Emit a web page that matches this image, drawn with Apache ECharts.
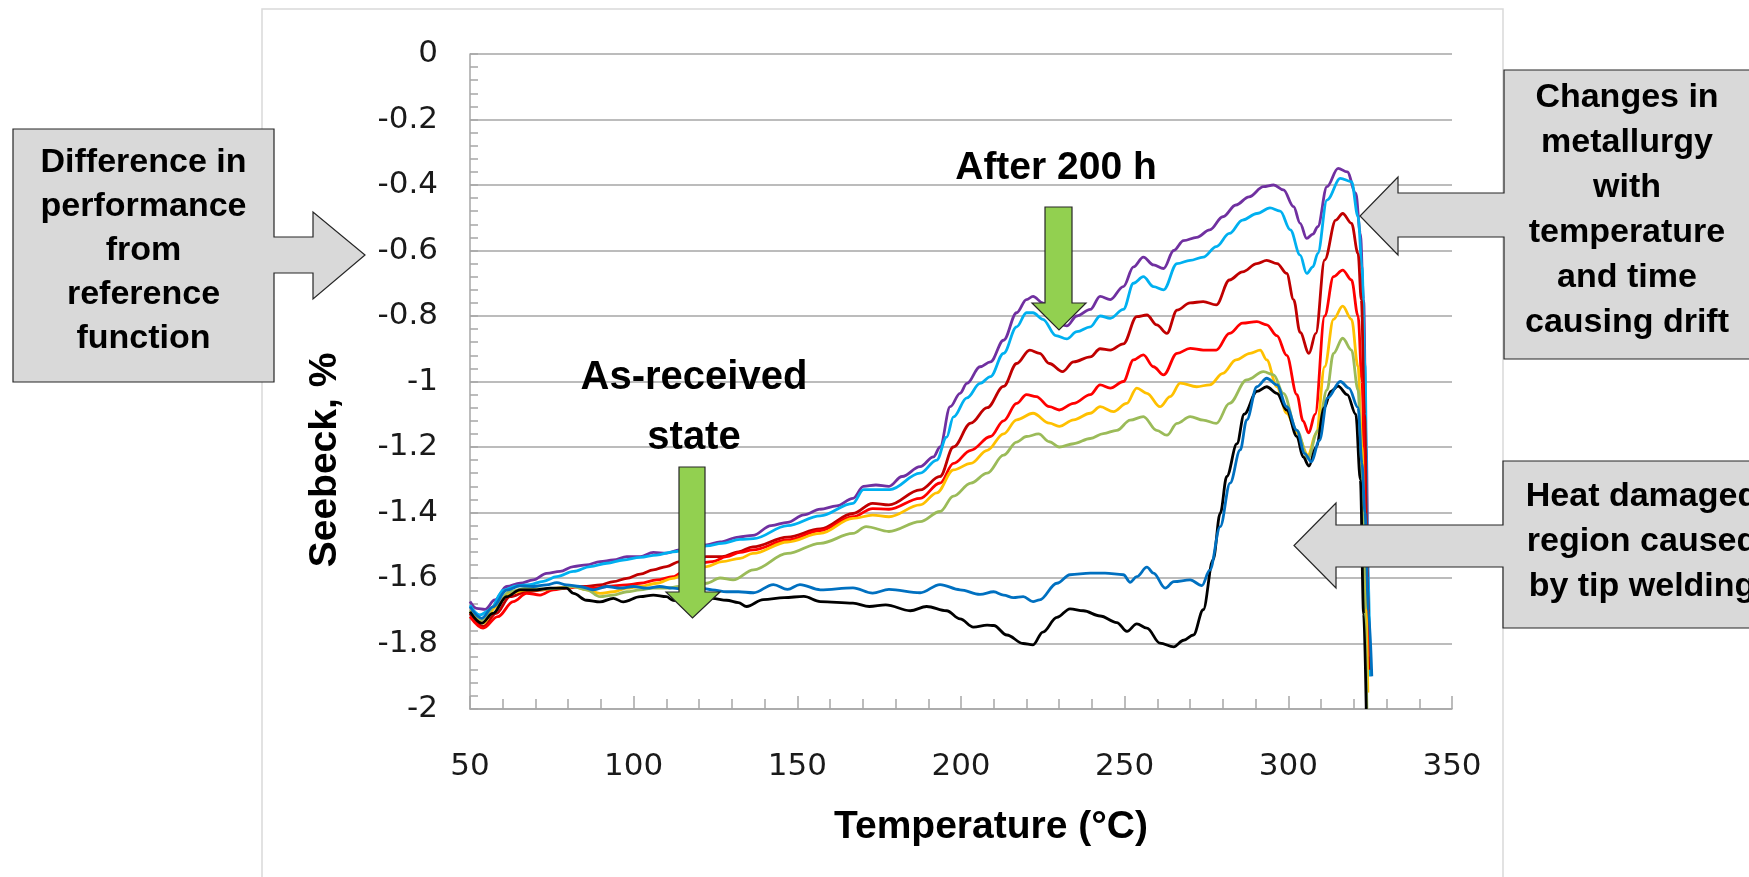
<!DOCTYPE html>
<html>
<head>
<meta charset="utf-8">
<title>Seebeck drift</title>
<script src="https://cdn.jsdelivr.net/npm/echarts@6/dist/echarts.min.js"></script>
<style>
  html, body { margin: 0; padding: 0; background: #fff; }
  #chart { width: 1749px; height: 877px; }
</style>
</head>
<body>
<div id="chart"></div>
<script>
// series: [temperature °C, Seebeck %]
const purple = [[50,-1.672],[52,-1.693],[54.6,-1.696],[57.6,-1.667],[61.2,-1.626],[65.3,-1.616],[69.3,-1.606],[73.4,-1.586],[77.5,-1.58],[81.6,-1.565],[85.6,-1.56],[89.7,-1.55],[93.8,-1.545],[97.9,-1.535],[102,-1.535],[106,-1.522],[110,-1.524],[114,-1.514],[118,-1.504],[122.3,-1.499],[126.4,-1.49],[132,-1.475],[136.4,-1.47],[142,-1.44],[147,-1.43],[152,-1.407],[157,-1.39],[162,-1.38],[167,-1.357],[170.2,-1.32],[174,-1.316],[178,-1.32],[182,-1.29],[187.5,-1.26],[191.6,-1.23],[193.6,-1.2],[196.7,-1.077],[199.7,-1.036],[201.8,-1.006],[205.8,-0.955],[209,-0.94],[213,-0.874],[217,-0.79],[220,-0.75],[222,-0.74],[225,-0.76],[229,-0.82],[232.3,-0.83],[235.4,-0.8],[239.5,-0.78],[242.5,-0.74],[245.6,-0.75],[249.6,-0.71],[252.7,-0.65],[255.7,-0.62],[258.8,-0.644],[261.9,-0.655],[265,-0.6],[268,-0.57],[272,-0.56],[276,-0.537],[280,-0.497],[284,-0.461],[288,-0.436],[292.4,-0.405],[295.5,-0.4],[298.5,-0.415],[301.6,-0.466],[303.6,-0.517],[305.6,-0.563],[307.5,-0.55],[309,-0.527],[311.8,-0.405],[315.2,-0.349],[318,-0.36],[320.6,-0.425],[322,-0.548],[323,-0.75],[323.8,-1.2],[324.5,-1.7],[325,-1.9]];
const cyan = [[50,-1.683],[53,-1.713],[56,-1.698],[60.2,-1.637],[64.3,-1.624],[68.3,-1.62],[72.4,-1.61],[76.5,-1.596],[81.6,-1.58],[86.7,-1.565],[91.8,-1.555],[96.8,-1.545],[102,-1.537],[107,-1.53],[112,-1.52],[117,-1.513],[122.3,-1.502],[127,-1.494],[132.5,-1.482],[136.6,-1.48],[147,-1.44],[157,-1.41],[167,-1.372],[170.2,-1.33],[178.3,-1.33],[187.5,-1.28],[192.6,-1.24],[195.6,-1.17],[197.7,-1.108],[201.8,-1.05],[205.8,-1.006],[209,-0.985],[213,-0.914],[217,-0.833],[220,-0.79],[222,-0.79],[225,-0.81],[229,-0.86],[232.3,-0.87],[235.4,-0.848],[239.5,-0.833],[242.5,-0.8],[245.6,-0.807],[249.6,-0.78],[252.7,-0.7],[255.7,-0.68],[258.8,-0.71],[261.9,-0.72],[266,-0.64],[270,-0.63],[274,-0.62],[278,-0.588],[282,-0.548],[286,-0.507],[290.4,-0.487],[294.4,-0.47],[297.5,-0.48],[300.6,-0.537],[303.6,-0.614],[305.6,-0.67],[307.5,-0.65],[309,-0.609],[311.8,-0.446],[315.9,-0.38],[319.3,-0.39],[321.3,-0.497],[322.5,-0.65],[323.4,-0.95],[324.2,-1.5],[325,-1.9]];
const darkRed = [[50,-1.708],[54,-1.748],[58,-1.708],[62.2,-1.657],[67.3,-1.642],[72.4,-1.636],[77.5,-1.631],[81.6,-1.626],[85.6,-1.626],[89.7,-1.621],[93.8,-1.611],[97.9,-1.601],[102,-1.588],[106,-1.575],[110,-1.565],[114,-1.55],[118,-1.54],[122.3,-1.535],[127,-1.535],[132,-1.52],[136.4,-1.505],[147,-1.475],[157,-1.45],[167,-1.403],[173,-1.372],[178,-1.377],[187.5,-1.331],[193.6,-1.29],[197.7,-1.2],[203,-1.127],[208,-1.08],[213,-1.015],[217,-0.945],[221,-0.904],[224,-0.914],[227,-0.945],[231,-0.97],[234.4,-0.94],[239.5,-0.925],[242.5,-0.9],[245.6,-0.904],[249.6,-0.885],[253.7,-0.802],[256.8,-0.797],[259.8,-0.827],[262.9,-0.853],[266,-0.782],[270,-0.76],[274,-0.756],[278,-0.766],[282,-0.69],[286,-0.665],[290.4,-0.64],[293.4,-0.63],[296.6,-0.64],[299.5,-0.67],[301.6,-0.75],[303.6,-0.85],[306.3,-0.914],[308.4,-0.853],[311.1,-0.629],[314.5,-0.507],[316.6,-0.487],[319.3,-0.517],[321.3,-0.609],[322.3,-0.75],[323.3,-1.1],[324.2,-1.6],[324.8,-1.88]];
const red = [[50,-1.718],[54,-1.753],[58.5,-1.718],[63.2,-1.672],[67.3,-1.647],[71.4,-1.652],[75.5,-1.636],[79.5,-1.631],[83.6,-1.626],[87.7,-1.631],[91.8,-1.626],[97.9,-1.621],[102,-1.616],[107,-1.606],[112,-1.596],[116,-1.575],[120,-1.555],[124,-1.55],[128.4,-1.535],[132.5,-1.522],[136.4,-1.514],[147,-1.484],[157,-1.455],[167,-1.413],[173,-1.388],[178,-1.39],[187.5,-1.357],[193.6,-1.31],[197.7,-1.25],[203,-1.21],[209,-1.168],[213,-1.12],[217,-1.067],[220,-1.04],[223,-1.046],[227,-1.077],[230,-1.087],[234.4,-1.067],[239.5,-1.04],[242.5,-1.01],[245.6,-1.02],[249.6,-1],[252.7,-0.934],[255.7,-0.919],[258.8,-0.955],[261.9,-0.98],[266,-0.914],[270,-0.899],[274,-0.904],[278,-0.904],[282,-0.853],[286,-0.822],[290.4,-0.817],[293.4,-0.827],[296.5,-0.86],[299.5,-0.92],[302.6,-1.04],[304.5,-1.12],[306.2,-1.157],[308.2,-1.1],[311.1,-0.8],[313.8,-0.68],[316.6,-0.66],[319.3,-0.69],[321.3,-0.8],[322.5,-1],[323.5,-1.4],[324.5,-1.84]];
const gold = [[50,-1.703],[54,-1.738],[58,-1.688],[62,-1.647],[67.3,-1.636],[71.4,-1.636],[76.5,-1.631],[81.6,-1.626],[85.6,-1.636],[89.7,-1.647],[93.8,-1.642],[97.9,-1.631],[102,-1.626],[107,-1.616],[112,-1.601],[117,-1.58],[122.3,-1.565],[127,-1.55],[132.5,-1.54],[136.4,-1.525],[147,-1.49],[157,-1.464],[167,-1.418],[173,-1.408],[178,-1.413],[187.5,-1.377],[192.6,-1.34],[197.7,-1.27],[203,-1.25],[208,-1.21],[213,-1.16],[217,-1.117],[222,-1.097],[227,-1.127],[230,-1.137],[234.4,-1.117],[239.5,-1.097],[242.5,-1.077],[246.6,-1.092],[250.6,-1.067],[253.7,-1.02],[256.8,-1.036],[260.8,-1.077],[263.9,-1.046],[267,-1.005],[272,-1.016],[276,-1.01],[280,-0.975],[284,-0.934],[288.3,-0.914],[291.4,-0.904],[293.4,-0.934],[296.5,-1.016],[299.5,-1.097],[302.6,-1.157],[306,-1.225],[308.5,-1.16],[311.1,-0.955],[313.8,-0.81],[316.6,-0.77],[319.3,-0.81],[321.3,-0.955],[322.5,-1.2],[323.5,-1.6],[324.3,-1.95]];
const green = [[50,-1.698],[53.6,-1.728],[58,-1.683],[62,-1.642],[67.3,-1.631],[72.4,-1.634],[77.5,-1.631],[81.6,-1.626],[85.6,-1.636],[89.7,-1.657],[93.8,-1.652],[97.9,-1.642],[102,-1.636],[106,-1.631],[110,-1.631],[114,-1.626],[118,-1.621],[122.3,-1.616],[126.4,-1.6],[130.4,-1.606],[136.6,-1.575],[147,-1.525],[157,-1.494],[167,-1.464],[171,-1.443],[178,-1.458],[187.5,-1.428],[193.6,-1.397],[197.7,-1.35],[203,-1.31],[208,-1.28],[213,-1.225],[217,-1.185],[220,-1.168],[223.7,-1.16],[227,-1.184],[230,-1.2],[234.4,-1.19],[239.5,-1.174],[243.5,-1.159],[247.6,-1.149],[251.7,-1.118],[255.7,-1.107],[259.8,-1.149],[262.9,-1.164],[266,-1.128],[270,-1.107],[274,-1.118],[278,-1.128],[282,-1.067],[287.3,-0.995],[292.4,-0.97],[295.5,-0.98],[298.5,-1.036],[302.6,-1.149],[306,-1.235],[309,-1.15],[311.8,-1.026],[313.8,-0.914],[316.6,-0.868],[319.3,-0.904],[321.3,-1.026],[322.5,-1.3],[323.4,-1.7],[324,-2]];
const blue = [[50,-1.688],[53.6,-1.723],[57,-1.688],[61.2,-1.637],[65.3,-1.624],[69.3,-1.626],[73.4,-1.621],[76.5,-1.614],[79.5,-1.621],[83.6,-1.626],[87.7,-1.636],[91.8,-1.626],[95.8,-1.631],[100,-1.626],[104,-1.631],[108,-1.626],[112,-1.631],[116,-1.636],[120.3,-1.631],[124,-1.636],[128.4,-1.642],[132,-1.642],[136.6,-1.645],[142.7,-1.62],[147,-1.635],[150.8,-1.62],[157,-1.636],[167,-1.63],[173,-1.646],[178,-1.635],[187.5,-1.645],[193.6,-1.62],[199.7,-1.636],[205.8,-1.65],[210,-1.642],[213,-1.652],[216,-1.66],[219,-1.657],[222,-1.672],[224,-1.667],[229.3,-1.616],[233.3,-1.59],[239.5,-1.585],[244,-1.585],[249.6,-1.59],[251.7,-1.613],[253.7,-1.596],[256.8,-1.567],[258.8,-1.585],[262.4,-1.631],[265,-1.611],[270,-1.606],[273.6,-1.623],[276,-1.576],[279.2,-1.443],[282.2,-1.31],[285.3,-1.209],[287.3,-1.117],[290.4,-1.016],[293.4,-0.99],[296.5,-1.01],[299.5,-1.077],[302.6,-1.149],[305,-1.22],[307,-1.245],[309.5,-1.18],[312,-1.05],[315.9,-1],[318.5,-1.02],[321.3,-1.08],[322.5,-1.25],[323.4,-1.4],[324.5,-1.7],[325.5,-1.9]];
const black = [[50,-1.703],[53.6,-1.738],[57,-1.708],[61.2,-1.657],[65.3,-1.636],[70.4,-1.636],[74.5,-1.631],[79.5,-1.631],[81.6,-1.647],[85.6,-1.668],[89.7,-1.673],[93.8,-1.662],[96.8,-1.673],[102,-1.657],[106,-1.652],[110,-1.657],[112,-1.668],[116,-1.673],[120,-1.668],[124,-1.662],[128.4,-1.668],[132,-1.675],[134.5,-1.687],[139.6,-1.666],[146,-1.66],[152,-1.656],[157,-1.672],[167,-1.677],[172,-1.687],[177,-1.682],[184.5,-1.7],[189.5,-1.687],[195.6,-1.7],[199.7,-1.725],[203.8,-1.75],[208,-1.744],[210,-1.745],[214,-1.774],[219,-1.8],[222,-1.804],[225,-1.765],[229.3,-1.72],[233.3,-1.694],[237.4,-1.7],[242.5,-1.716],[247.6,-1.736],[250.7,-1.763],[253.7,-1.74],[256.8,-1.753],[260.8,-1.799],[265,-1.81],[268,-1.79],[271,-1.774],[274,-1.697],[277,-1.545],[279.2,-1.402],[281.2,-1.29],[284.3,-1.19],[286.5,-1.1],[290.4,-1.03],[293.4,-1.016],[296.5,-1.036],[299.5,-1.087],[302.6,-1.168],[304.5,-1.23],[306.3,-1.258],[308.5,-1.2],[311,-1.08],[313,-1.03],[315.2,-1.014],[318,-1.04],[320.6,-1.1],[322,-1.3],[323,-1.71],[323.8,-2]];

const seriesData = [purple, cyan, darkRed, red, gold, green, black, blue];
const seriesColors = ['#7030a0', '#00b0f0', '#c00000', '#ff0000', '#ffc000', '#9bbb59', '#000000', '#0070c0'];

const xMin = 50, xMax = 350, xStep = 50;
const yMin = -2, yMax = 0, yStep = 0.2;

const leftNote = ['Difference in', 'performance', 'from', 'reference', 'function'];
const driftNote = ['Changes in', 'metallurgy', 'with', 'temperature', 'and time', 'causing drift'];
const weldNote = ['Heat damaged', 'region caused', 'by tip welding'];

const boldFont = size => 'bold ' + size + 'px "Liberation Sans", Arial, sans-serif';

function textLines(lines, cx, firstY, step, size) {
  return lines.map((t, i) => ({
    type: 'text', z: 102,
    style: { text: t, x: cx, y: firstY + i * step, textAlign: 'center', textVerticalAlign: 'middle', font: boldFont(size), fill: '#000' }
  }));
}

const calloutStyle = { fill: '#d9d9d9', stroke: '#262626', lineWidth: 1.2 };
const greenStyle = { fill: '#92d050', stroke: '#262626', lineWidth: 1.2 };
const axisGray = '#a6a6a6';

const chart = echarts.init(document.getElementById('chart'));
chart.setOption({
  animation: false,
  backgroundColor: '#fff',
  grid: { left: 470, right: 297, top: 54, bottom: 168, containLabel: false },
  xAxis: {
    type: 'value', min: xMin, max: xMax, interval: xStep,
    axisLine: { onZero: false, lineStyle: { color: axisGray, width: 1.5 } },
    axisTick: { show: true, inside: true, length: 13, lineStyle: { color: axisGray, width: 1.5 } },
    minorTick: { show: true, splitNumber: 5, length: 10, lineStyle: { color: axisGray, width: 1.5 } },
    splitLine: { show: false },
    axisLabel: { fontFamily: '"DejaVu Sans", sans-serif', fontSize: 31, color: '#1a1a1a', margin: 42 }
  },
  yAxis: {
    type: 'value', min: yMin, max: yMax, interval: yStep,
    axisLine: { show: true, onZero: false, lineStyle: { color: axisGray, width: 1.5 } },
    axisTick: { show: true, inside: true, length: 8, lineStyle: { color: axisGray, width: 1.5 } },
    minorTick: { show: true, splitNumber: 5, length: 8, lineStyle: { color: axisGray, width: 1.5 } },
    splitLine: { show: true, lineStyle: { color: axisGray, width: 1.5 } },
    axisLabel: {
      fontFamily: '"DejaVu Sans", sans-serif', fontSize: 31, color: '#1a1a1a', margin: 32,
      formatter: v => String(Number(v.toFixed(1)))
    }
  },
  series: seriesData.map((d, i) => ({
    type: 'line', data: d, showSymbol: false, smooth: 0.35, smoothMonotone: 'x',
    lineStyle: { color: seriesColors[i], width: 2.8 }, itemStyle: { color: seriesColors[i] },
    clip: true, z: 2 + i
  })),
  graphic: [
    // chart frame
    { type: 'rect', z: -10, silent: true, shape: { x: 262, y: 9, width: 1241, height: 900 }, style: { fill: 'none', stroke: '#d9d9d9', lineWidth: 1.5 } },
    // axis titles
    { type: 'text', z: 100, x: 991, y: 827, style: { text: 'Temperature (°C)', textAlign: 'center', textVerticalAlign: 'middle', font: boldFont(39), fill: '#000' } },
    { type: 'text', z: 100, x: 325, y: 460, rotation: Math.PI / 2, style: { text: 'Seebeck, %', textAlign: 'center', textVerticalAlign: 'middle', font: boldFont(39), fill: '#000' } },
    // callouts
    { type: 'polygon', z: 101, shape: { points: [[13,129],[274,129],[274,237],[313,237],[313,212],[365,255],[313,299],[313,273],[274,273],[274,382],[13,382]] }, style: calloutStyle },
    { type: 'polygon', z: 101, shape: { points: [[1800,70],[1504,70],[1504,193],[1398,193],[1398,177],[1360,216],[1398,255],[1398,237],[1504,237],[1504,359],[1800,359]] }, style: calloutStyle },
    { type: 'polygon', z: 101, shape: { points: [[1800,461],[1503,461],[1503,525],[1336,525],[1336,503],[1294,545.5],[1336,588],[1336,567],[1503,567],[1503,628],[1800,628]] }, style: calloutStyle },
    ...textLines(leftNote, 143.5, 163, 44, 34),
    ...textLines(driftNote, 1627, 98, 45, 34),
    ...textLines(weldNote, 1642, 497, 45, 34),
    // green arrows
    { type: 'polygon', z: 101, shape: { points: [[679,467],[705,467],[705,592],[720,592],[692.5,618],[666,592],[679,592]] }, style: greenStyle },
    { type: 'polygon', z: 101, shape: { points: [[1045,207],[1072,207],[1072,303],[1086,303],[1059,330],[1032,303],[1045,303]] }, style: greenStyle },
    { type: 'text', z: 102, x: 694, y: 378, style: { text: 'As-received', textAlign: 'center', textVerticalAlign: 'middle', font: boldFont(40), fill: '#000' } },
    { type: 'text', z: 102, x: 694, y: 438, style: { text: 'state', textAlign: 'center', textVerticalAlign: 'middle', font: boldFont(40), fill: '#000' } },
    { type: 'text', z: 102, x: 1056, y: 168, style: { text: 'After 200 h', textAlign: 'center', textVerticalAlign: 'middle', font: boldFont(39), fill: '#000' } }
  ]
});
</script>
</body>
</html>
